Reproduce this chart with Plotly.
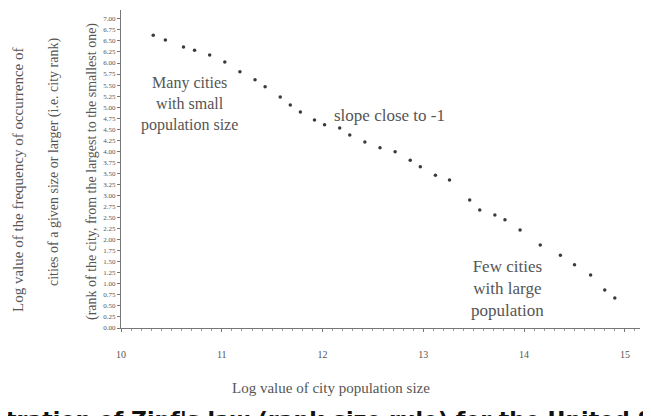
import plotly.graph_objects as go

# Data (log city size vs log rank)
log_size = [10.32, 10.44, 10.62, 10.73, 10.88, 11.03, 11.18, 11.33, 11.43, 11.58,
            11.68, 11.78, 11.92, 12.02, 12.17, 12.27, 12.42, 12.57, 12.72, 12.87,
            12.97, 13.12, 13.26, 13.46, 13.56, 13.71, 13.81, 13.96, 14.16, 14.36,
            14.50, 14.66, 14.80, 14.90]
log_rank = [6.63, 6.52, 6.36, 6.29, 6.18, 6.02, 5.80, 5.62, 5.46, 5.23,
            5.05, 4.89, 4.71, 4.60, 4.53, 4.37, 4.21, 4.08, 3.99, 3.80,
            3.65, 3.46, 3.35, 2.90, 2.67, 2.56, 2.45, 2.22, 1.88, 1.65,
            1.43, 1.20, 0.86, 0.68]
x_ticks = [10, 11, 12, 13, 14, 15]

title_text = "Illustration of Zipf's law (rank-size rule) for the United States"
x_title = "Log value of city population size"
y_title_lines = ["Log value of the frequency of occurrence of",
                 "cities of a given size or larger (i.e. city rank)",
                 "(rank of the city, from the largest to the smallest one)"]
note_small = "Many cities<br>with small<br>population size"
note_slope = "slope close to -1"
note_large = "Few cities<br>with large<br>population"

serif = "Liberation Serif"
grey = "#555555"

# page body has an 8px margin; figure sized to fill the rest of the window
W, H, OFF = 643, 408, 8
L, R, T, B = 113, 11, 2, 88
PW, PH = W - L - R, H - T - B


def px(sx):
    return (sx - OFF - L) / PW


def py(sy):
    return (H - B - (sy - OFF)) / PH


fig = go.Figure()
fig.add_trace(go.Scatter(
    x=log_size, y=log_rank, mode="markers",
    marker=dict(size=3.5, color="#3a3a3a"),
    showlegend=False, hoverinfo="skip"))

fig.update_layout(
    width=W, height=H,
    margin=dict(l=L, r=R, t=T, b=B),
    paper_bgcolor="white", plot_bgcolor="white",
    font=dict(family=serif, size=9, color=grey),
    xaxis=dict(range=[10, 15.15], tickvals=x_ticks, showgrid=False, zeroline=False,
               showline=True, linecolor="#777777", linewidth=1,
               ticks="outside", ticklen=3, tickcolor="#777777",
               minor=dict(dtick=0.1, ticks="outside", ticklen=2, tickcolor="#999999"),
               ticklabelstandoff=14, tickfont=dict(size=10, family=serif)),
    yaxis=dict(range=[0, 7.2], dtick=0.25, tickformat=".2f", showgrid=False, zeroline=False,
               showline=True, linecolor="#777777", linewidth=1,
               ticks="outside", ticklen=3, tickcolor="#777777",
               tickfont=dict(size=7, family=serif)),
)

# y-axis title lines (rotated)
for xpos, ycen, txt, fs in zip([18, 54, 92], [180, 162, 172], y_title_lines, [15, 14, 14]):
    fig.add_annotation(text=txt, xref="paper", yref="paper",
                       x=px(xpos), y=py(ycen), textangle=-90,
                       showarrow=False, xanchor="center", yanchor="middle",
                       font=dict(size=fs, family=serif, color=grey))

fig.add_annotation(text=x_title, xref="paper", yref="paper",
                   x=px(331), y=py(388), showarrow=False,
                   xanchor="center", yanchor="middle",
                   font=dict(size=15, family=serif, color=grey))

fig.add_annotation(text=note_small, xref="paper", yref="paper",
                   x=px(189), y=py(104), showarrow=False,
                   xanchor="center", yanchor="middle", align="center",
                   font=dict(size=16, family=serif, color=grey))
fig.add_annotation(text=note_slope, xref="paper", yref="paper",
                   x=px(390), y=py(115), showarrow=False,
                   xanchor="center", yanchor="middle",
                   font=dict(size=17, family=serif, color=grey))
fig.add_annotation(text=note_large, xref="paper", yref="paper",
                   x=px(507), y=py(288), showarrow=False,
                   xanchor="center", yanchor="middle", align="center",
                   font=dict(size=17, family=serif, color=grey))

fig.add_annotation(text="<b>" + title_text + "</b>", xref="paper", yref="paper",
                   x=px(335), y=py(405), showarrow=False,
                   xanchor="center", yanchor="top",
                   font=dict(size=22, family="DejaVu Sans", color="#111111"))

fig.write_html("out.html")
